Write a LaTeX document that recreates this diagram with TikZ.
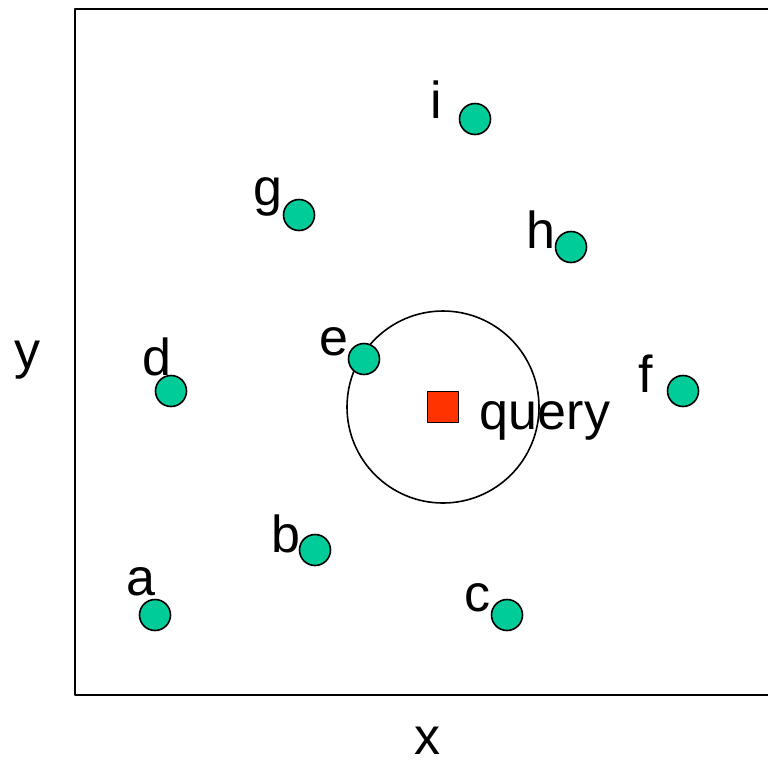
\documentclass[tikz,border=0pt]{standalone}
\usepackage{fontspec}
\setmainfont{Liberation Sans}
\usetikzlibrary{positioning}

\definecolor{ptgreen}{HTML}{00CC99}
\definecolor{qred}{HTML}{FF3300}

\begin{document}
\begin{tikzpicture}[x=1pt, y=-1pt, line join=round,
    pt/.style={circle, draw=black, line width=1.6pt, fill=ptgreen, minimum size=31pt, inner sep=0pt},
    qry/.style={rectangle, draw=black, line width=1.6pt, fill=qred, minimum size=31pt, inner sep=0pt},
    lbl/.style={inner sep=0pt, font=\fontsize{52}{52}\selectfont}]
  \useasboundingbox (0,0) rectangle (768,761);

  %--- frame (open on the right) -------------------------------------------
  \draw[line width=1.6pt] (768,9) -- (75,9) -- (75,695) -- (768,695);

  %--- axis labels ---------------------------------------------------------
  \node[lbl] (xlab) at (427,741) {x};
  \node[lbl] (ylab) at (27,360) {y};

  %--- query and its range -------------------------------------------------
  \node[qry] (q) at (443,407) {};
  \draw[line width=1.6pt] (q.center) circle (96);
  \node[lbl] (qlab) at (545,421) {query};

  %--- data points ---------------------------------------------------------
  \node[pt] (a) at (155,615) {};
  \node[pt] (b) at (315,550) {};
  \node[pt] (c) at (507,615) {};
  \node[pt] (d) at (171,391) {};
  \node[pt] (e) at (364,359) {};
  \node[pt] (f) at (683,391) {};
  \node[pt] (g) at (299,215) {};
  \node[pt] (h) at (571,247) {};
  \node[pt] (i) at (475,119) {};

  % point names
  \node[lbl] (alab) at (141,582) {a};
  \node[lbl] (blab) at (286,534) {b};
  \node[lbl] (clab) at (477,598) {c};
  \node[lbl] (dlab) at (157,357) {d};
  \node[lbl] (elab) at (334,342) {e};
  \node[lbl] (flab) at (646,374) {f};
  \node[lbl] (glab) at (268,197) {g};
  \node[lbl] (hlab) at (541,230) {h};
  \node[lbl] (ilab) at (436,100) {i};
\end{tikzpicture}
\end{document}
